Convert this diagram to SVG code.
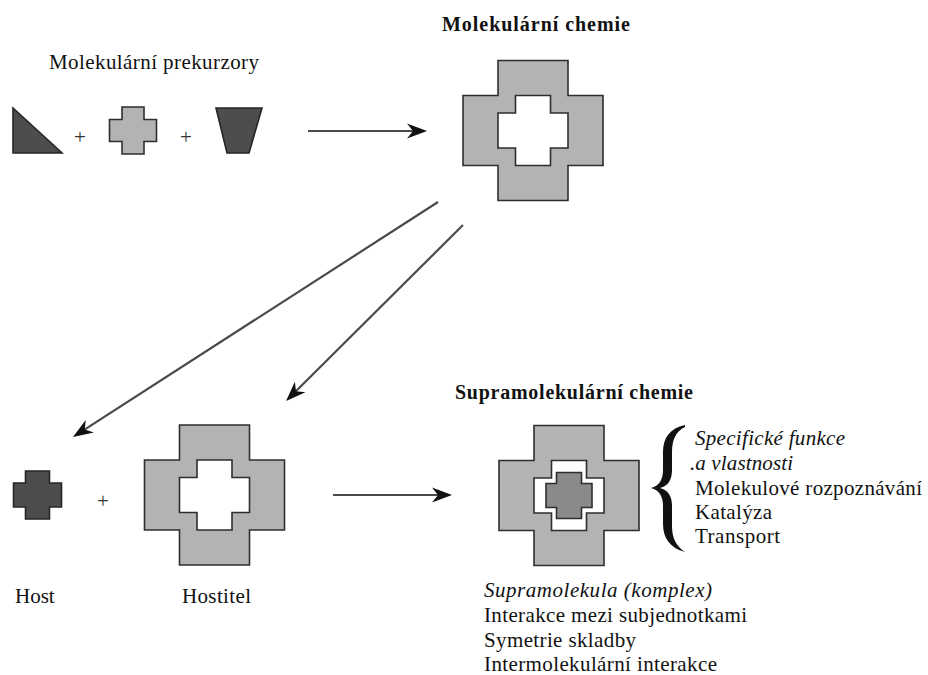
<svg xmlns="http://www.w3.org/2000/svg" width="928" height="675" viewBox="0 0 928 675">
  <style>
    .t { font-family: "Liberation Serif", "Times New Roman", serif; font-size: 21px; fill: #111; }
    .b { font-weight: bold; font-size: 20px; }
    .i { font-style: italic; }
    .plus { font-family: "Liberation Serif", serif; font-size: 21px; fill: #333; text-anchor: middle; }
    .light { fill: #b3b3b3; stroke: #2e2e2e; stroke-width: 1.6; stroke-linejoin: miter; }
    .dark { fill: #4d4d4d; stroke: #262626; stroke-width: 1.6; }
    .mid { fill: #8a8a8a; stroke: #2e2e2e; stroke-width: 1.6; }
    .hole { fill: #ffffff; stroke: #2e2e2e; stroke-width: 1.6; }
    .conn { stroke: #4a4a4a; stroke-width: 2.2; fill: none; }
  </style>
  <defs>
    <marker id="arrow" markerUnits="userSpaceOnUse" markerWidth="22" markerHeight="18" refX="10" refY="8" orient="auto" overflow="visible">
      <path d="M0,0.5 L20,8 L0,15.5 L6,8 Z" fill="#111"/>
    </marker>
  </defs>
  <rect width="928" height="675" fill="#ffffff"/>

  <!-- Precursors -->
  <g id="precursors-label">
    <text class="t" x="49" y="69" textLength="210" lengthAdjust="spacing">Molekulární prekurzory</text>
  </g>
  <g id="triangle">
    <polygon class="dark" points="13,108 13,153 62,153"/>
  </g>
  <g id="plus1"><text class="plus" x="80" y="144">+</text></g>
  <g id="small-cross">
    <path class="light" d="M122,107 H144 V119.5 H156.5 V141.5 H144 V154 H122 V141.5 H109.5 V119.5 H122 Z"/>
  </g>
  <g id="plus2"><text class="plus" x="186" y="144">+</text></g>
  <g id="trapezoid">
    <polygon class="dark" points="216,108 262,108 249,153 227,153"/>
  </g>

  <!-- Molecular chemistry -->
  <g id="molecular-chemistry">
    <text class="t b" x="442" y="31" textLength="188" lengthAdjust="spacing">Molekulární chemie</text>
    <path class="light" d="M498,60.5 H568 V95.5 H603 V165.5 H568 V200.5 H498 V165.5 H463 V95.5 H498 Z"/>
    <path class="hole" d="M515.5,95.5 H550.5 V113 H568 V148 H550.5 V165.5 H515.5 V148 H498 V113 H515.5 Z"/>
  </g>

  <!-- Host -->
  <g id="host">
    <path class="dark" d="M25.5,471 H49.5 V483 H61.5 V507 H49.5 V519 H25.5 V507 H13.5 V483 H25.5 Z"/>
    <text class="t" x="15" y="603">Host</text>
  </g>
  <g id="plus3"><text class="plus" x="103" y="508">+</text></g>

  <!-- Hostitel -->
  <g id="hostitel">
    <path class="light" d="M179.5,425 H249.5 V460 H284.5 V530 H249.5 V565 H179.5 V530 H144.5 V460 H179.5 Z"/>
    <path class="hole" d="M197,460 H232 V477.5 H249.5 V512.5 H232 V530 H197 V512.5 H179.5 V477.5 H197 Z"/>
    <text class="t" x="182" y="603" textLength="69" lengthAdjust="spacing">Hostitel</text>
  </g>

  <!-- Supramolecular -->
  <g id="supramolecular-chemistry">
    <text class="t b" x="455" y="399" textLength="238" lengthAdjust="spacing">Supramolekulární chemie</text>
    <path class="light" d="M534,425.5 H604 V460.5 H639 V530.5 H604 V565.5 H534 V530.5 H499 V460.5 H534 Z"/>
    <path class="hole" d="M551.5,460.5 H586.5 V478 H604 V513 H586.5 V530.5 H551.5 V513 H534 V478 H551.5 Z"/>
    <path class="mid" d="M556.5,472.5 H581.5 V483.5 H592 V507.5 H581.5 V518.5 H556.5 V507.5 H546 V483.5 H556.5 Z"/>
  </g>

  <g id="properties">
    <path d="M685,425 C670,428 663,438 663,452 L663,470 C663,480 659,486 651,488 C659,490 663,496 663,506 L663,524 C663,538 670,548 685,552 C676,546 672,538 672,526 L672,506 C672,496 668,490 660,488 C668,486 672,480 672,470 L672,452 C672,440 676,431 685,427 Z" fill="#111"/>
    <text class="t i" x="695" y="445" textLength="150" lengthAdjust="spacing">Specifické funkce</text>
    <text class="t i" x="690" y="470" textLength="103" lengthAdjust="spacing">.a vlastnosti</text>
    <text class="t" x="695" y="495" textLength="227" lengthAdjust="spacing">Molekulové rozpoznávání</text>
    <text class="t" x="695" y="519" textLength="77" lengthAdjust="spacing">Katalýza</text>
    <text class="t" x="695" y="543" textLength="85" lengthAdjust="spacing">Transport</text>
  </g>

  <g id="supramolecule">
    <text class="t i" x="484" y="597" textLength="228" lengthAdjust="spacing">Supramolekula (komplex)</text>
    <text class="t" x="484" y="622" textLength="263" lengthAdjust="spacing">Interakce mezi subjednotkami</text>
    <text class="t" x="484" y="647" textLength="152" lengthAdjust="spacing">Symetrie skladby</text>
    <text class="t" x="484" y="671" textLength="233" lengthAdjust="spacing">Intermolekulární interakce</text>
  </g>

  <!-- Connectors -->
  <g id="connectors">
    <line class="conn" x1="308" y1="131" x2="417" y2="131" marker-end="url(#arrow)"/>
    <line class="conn" x1="438" y1="202" x2="81.4" y2="431.6" marker-end="url(#arrow)"/>
    <line class="conn" x1="463" y1="225" x2="293.1" y2="394" marker-end="url(#arrow)"/>
    <line class="conn" x1="333" y1="495" x2="442" y2="495" marker-end="url(#arrow)"/>
  </g>
</svg>
